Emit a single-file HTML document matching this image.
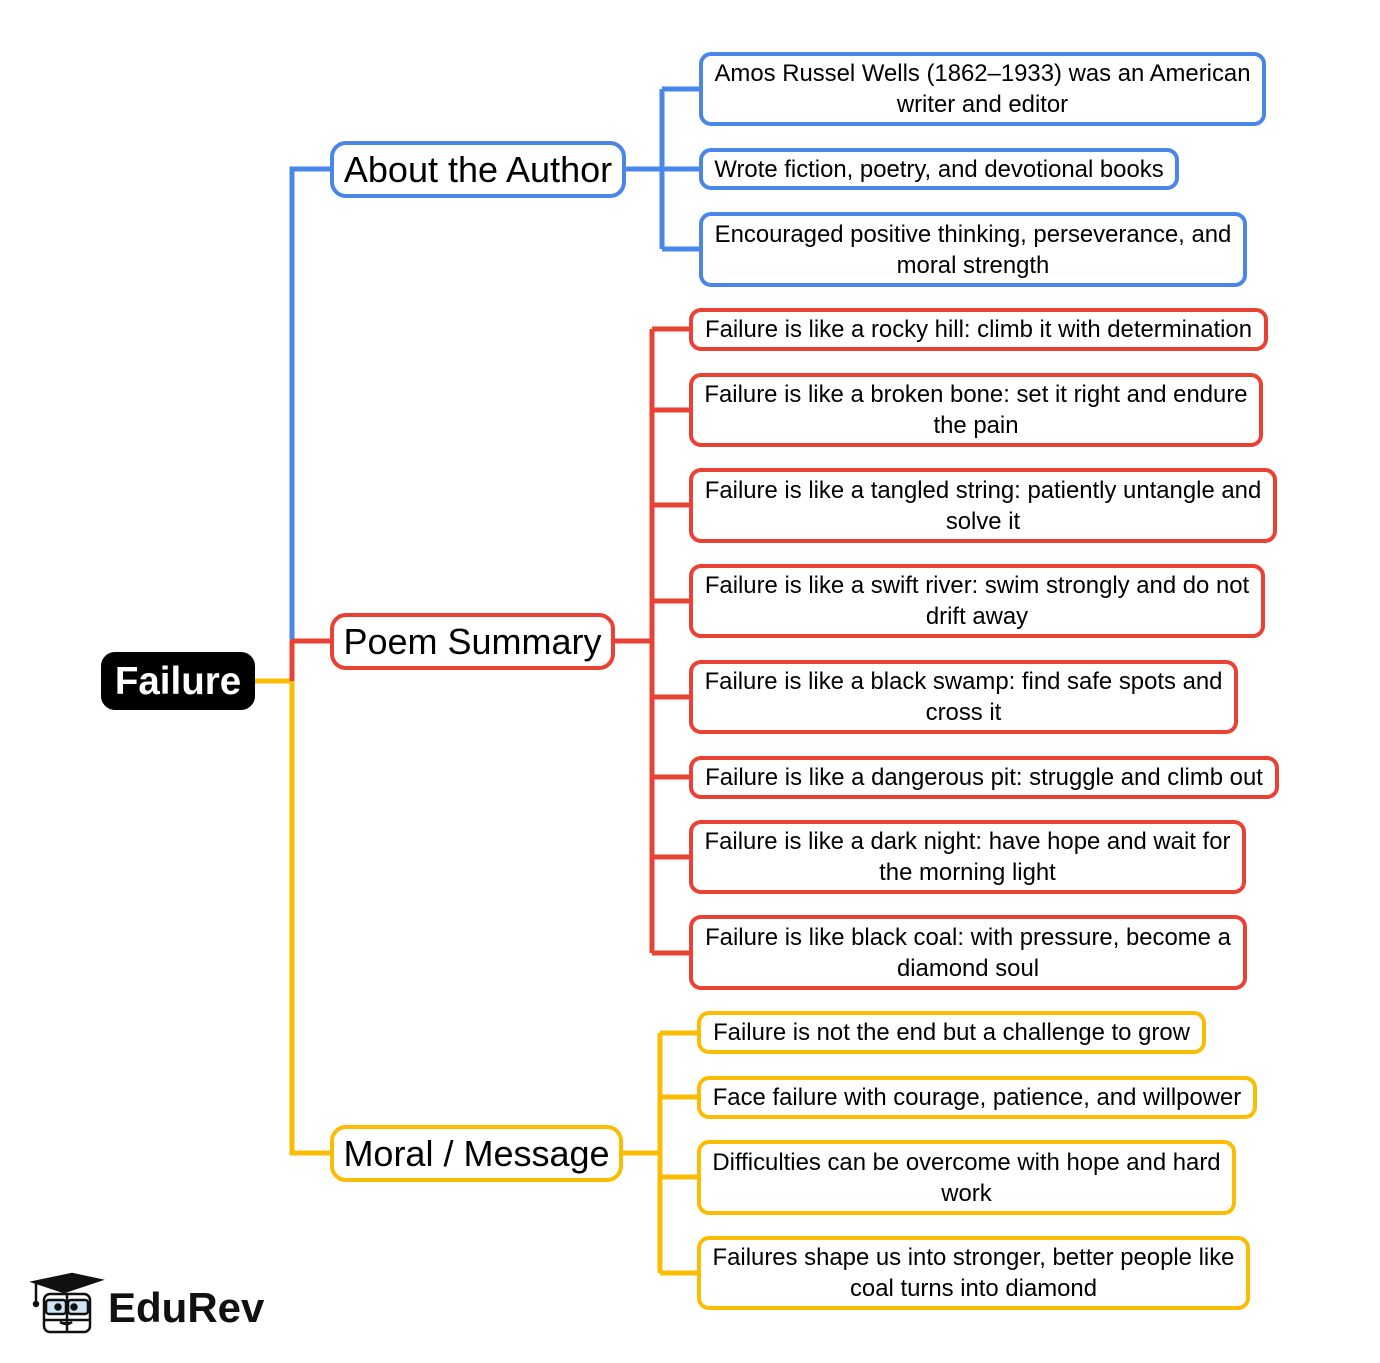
<!DOCTYPE html>
<html><head><meta charset="utf-8"><style>
body{margin:0;width:1380px;height:1363px;background:#fff;position:relative;overflow:hidden;font-family:"Liberation Sans",sans-serif}
.b{position:absolute;box-sizing:border-box;border:4px solid;border-radius:12px;display:flex;align-items:center;justify-content:center;text-align:center;background:#fff;color:#000;font-size:23.9px;line-height:31px;padding:0 6px}
.m{font-size:36px;border-radius:16px}
.bl{border-color:#4a86e8}.rd{border-color:#e94235}.yl{border-color:#fbbc04}
svg{position:absolute;left:0;top:0}
</style></head><body>
<svg width="1380" height="1363" fill="none" stroke-width="5">
<g stroke="#fbbc04"><path d="M255 681H292V1153H330"/><path d="M623 1153H660M660 1033V1273M660 1033H697M660 1097H697M660 1177H697M660 1273H697"/></g>
<g stroke="#4a86e8"><path d="M330 169H292V640"/><path d="M626 169H699M662 89V249M662 89H699M662 249H699"/></g>
<g stroke="#e94235"><path d="M292 640V681M292 641H330"/><path d="M615 641H652M652 329V953M652 329H689M652 410H689M652 505H689M652 601H689M652 697H689M652 777H689M652 857H689M652 953H689"/></g>
</svg>
<div class="b" style="left:101px;top:652px;width:154px;height:58px;background:#000;border-color:#000;color:#fff;font-weight:bold;font-size:38.5px;border-radius:14px">Failure</div>
<div class="b m bl" style="left:330px;top:141px;width:296px;height:57px">About the Author</div>
<div class="b m rd" style="left:330px;top:613px;width:285px;height:57px">Poem Summary</div>
<div class="b m yl" style="left:330px;top:1125px;width:293px;height:57px">Moral / Message</div>

<div class="b bl" style="left:699px;top:52px;width:567px;height:74px">Amos Russel Wells (1862–1933) was an American writer and editor</div>
<div class="b bl" style="left:699px;top:148px;width:480px;height:42px">Wrote fiction, poetry, and devotional books</div>
<div class="b bl" style="left:699px;top:212px;width:548px;height:75px">Encouraged positive thinking, perseverance, and moral strength</div>

<div class="b rd" style="left:689px;top:308px;width:579px;height:43px">Failure is like a rocky hill: climb it with determination</div>
<div class="b rd" style="left:689px;top:373px;width:574px;height:74px">Failure is like a broken bone: set it right and endure the pain</div>
<div class="b rd" style="left:689px;top:468px;width:588px;height:75px">Failure is like a tangled string: patiently untangle and solve it</div>
<div class="b rd" style="left:689px;top:564px;width:576px;height:74px">Failure is like a swift river: swim strongly and do not drift away</div>
<div class="b rd" style="left:689px;top:660px;width:549px;height:74px">Failure is like a black swamp: find safe spots and cross it</div>
<div class="b rd" style="left:689px;top:756px;width:590px;height:43px">Failure is like a dangerous pit: struggle and climb out</div>
<div class="b rd" style="left:689px;top:820px;width:557px;height:74px">Failure is like a dark night: have hope and wait for the morning light</div>
<div class="b rd" style="left:689px;top:915px;width:558px;height:75px">Failure is like black coal: with pressure, become a diamond soul</div>

<div class="b yl" style="left:697px;top:1011px;width:509px;height:43px">Failure is not the end but a challenge to grow</div>
<div class="b yl" style="left:697px;top:1076px;width:560px;height:43px">Face failure with courage, patience, and willpower</div>
<div class="b yl" style="left:697px;top:1140px;width:539px;height:75px">Difficulties can be overcome with hope and hard work</div>
<div class="b yl" style="left:697px;top:1236px;width:553px;height:74px">Failures shape us into stronger, better people like coal turns into diamond</div>

<svg width="80" height="70" style="left:28px;top:1270px" stroke="#111" stroke-width="2.5">
<path d="M6 12L44 4L72 10L36 22Z" fill="#111"/>
<path d="M8 13V32" /><circle cx="8" cy="34" r="2" fill="#111"/>
<rect x="16" y="24" width="46" height="38" rx="6" fill="#fff"/>
<rect x="18" y="30" width="20" height="14" rx="3" fill="#cfe3f7"/><rect x="40" y="30" width="20" height="14" rx="3" fill="#cfe3f7"/>
<circle cx="30" cy="37" r="2.5" fill="#111"/><circle cx="46" cy="37" r="2.5" fill="#111"/>
<path d="M39 24V62M16 50H62M32 52Q39 56 44 52"/>
</svg>
<div style="position:absolute;left:108px;top:1284px;font-size:42px;font-weight:bold;color:#111;line-height:48px">EduRev</div>
</body></html>
